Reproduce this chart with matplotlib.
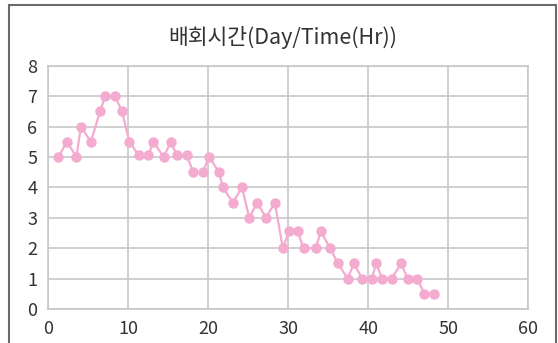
import matplotlib.pyplot as plt
from matplotlib.patches import Rectangle

plt.rcParams['font.family'] = ['Noto Sans CJK KR', 'DejaVu Sans']
plt.rcParams['font.weight'] = 'light'

# values
days = [1.25, 2.3, 3.5, 4.05, 5.3, 6.45, 7.1, 8.3, 9.2, 10.1,
        11.3, 12.5, 13.1, 14.4, 15.3, 16.05, 17.3, 18.1, 19.3, 20.1,
        21.3, 21.8, 23.05, 24.2, 25.1, 26.1, 27.2, 28.3, 29.3, 30.05,
        31.15, 31.9, 33.4, 34.05, 35.2, 36.2, 37.4, 38.2, 39.2, 40.4,
        41.0, 41.7, 42.9, 44.1, 44.9, 46.1, 47.0, 48.2]
hours = [5.0, 5.5, 5.0, 6.0, 5.5, 6.5, 7.0, 7.0, 6.5, 5.5,
         5.05, 5.05, 5.5, 5.0, 5.5, 5.05, 5.05, 4.5, 4.5, 5.0,
         4.5, 4.0, 3.5, 4.0, 3.0, 3.5, 3.0, 3.5, 2.0, 2.55,
         2.55, 2.0, 2.0, 2.55, 2.0, 1.5, 1.0, 1.5, 1.0, 1.0,
         1.5, 1.0, 1.0, 1.5, 1.0, 1.0, 0.5, 0.5]
title = '배회시간(Day/Time(Hr))'

fig = plt.figure(figsize=(5.58, 3.43), dpi=100)
ax = fig.add_axes([0.0869, 0.099, 0.86, 0.7095])

ax.plot(days, hours, color='#f4abd0', lw=1.6, marker='o', ms=7.5,
        markeredgewidth=0, zorder=3)

ax.set_xlim(0, 60)
ax.set_ylim(0, 8)
ax.set_xticks(range(0, 61, 10))
ax.set_yticks(range(0, 9))
ax.grid(True, color='#c8c8c8', lw=1.2)
ax.set_axisbelow(True)
for s in ax.spines.values():
    s.set_color('#c8c8c8')
    s.set_linewidth(1.2)
ax.tick_params(length=0, labelsize=13, colors='#333333', pad=8)

fig.text(0.507, 0.89, title, ha='center', va='center', fontsize=15.5,
         color='#333333')

# outer frame
fig.patches.append(Rectangle((9 / 558, -0.05), 547 / 558, 1.05 - 5 / 343,
                             transform=fig.transFigure, fill=False,
                             edgecolor='#6a6a6a', lw=1.5))

fig.savefig('out.png', dpi=100)
